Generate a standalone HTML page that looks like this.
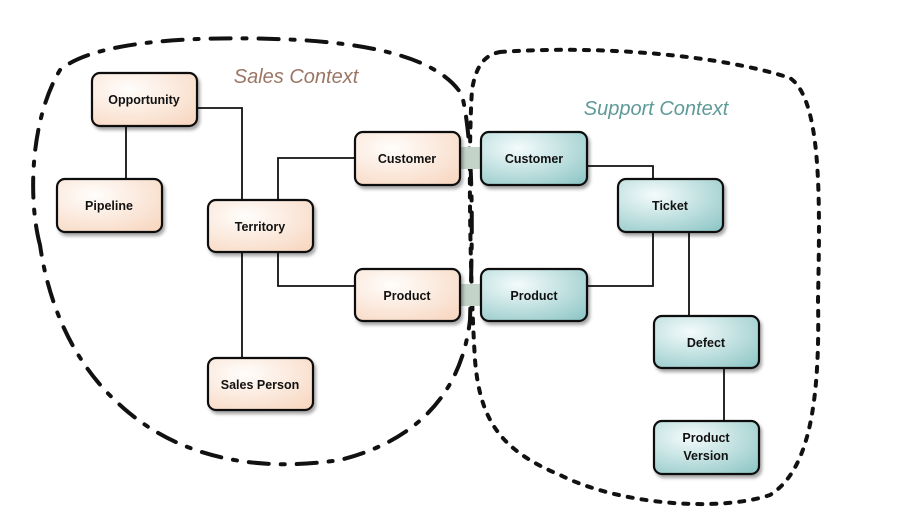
<!DOCTYPE html>
<html><head><style>
body{margin:0;background:#fff;width:913px;height:527px;overflow:hidden;font-family:"Liberation Sans",sans-serif}
</style></head><body>
<svg width="913" height="527" viewBox="0 0 913 527" xmlns="http://www.w3.org/2000/svg">
<defs>
<radialGradient id="s" cx="0.35" cy="0.3" r="0.9"><stop offset="0" stop-color="#fffdfb"/><stop offset="1" stop-color="#f7d6bf"/></radialGradient>
<radialGradient id="t" cx="0.35" cy="0.3" r="0.9"><stop offset="0" stop-color="#f4fbfb"/><stop offset="1" stop-color="#8fc6c6"/></radialGradient>
<filter id="sh" x="-10%" y="-10%" width="130%" height="140%"><feDropShadow dx="2" dy="3" stdDeviation="1.5" flood-color="#000" flood-opacity="0.35"/></filter>
</defs>
<!-- sales blob -->
<path d="M40,245 C28,200 30,120 60,70 C95,40 200,35 300,40 C380,45 440,60 462,95 C475,150 472,250 470,320 C462,390 420,440 340,460 C260,472 180,460 120,405 C70,360 48,300 40,245 Z" fill="none" stroke="#111" stroke-width="4" stroke-dasharray="20 12 4 12" stroke-linecap="round"/>
<!-- support blob -->
<path d="M500,52 C600,45 720,55 790,78 C822,100 820,200 818,300 C820,400 810,470 770,495 C720,512 620,505 560,475 C500,450 480,420 475,360 C470,280 468,150 472,90 C476,65 485,55 500,52 Z" fill="none" stroke="#111" stroke-width="4" stroke-dasharray="5 9" stroke-linecap="round"/>
<text x="296" y="83" font-family="Liberation Sans" font-style="italic" font-size="20" fill="#9b7665" text-anchor="middle">Sales Context</text>
<text x="656" y="115" font-family="Liberation Sans" font-style="italic" font-size="20" fill="#5f9a98" text-anchor="middle">Support Context</text>
<!-- bridges -->
<rect x="458" y="147" width="26" height="22" fill="#c3d3c8"/>
<rect x="458" y="284" width="26" height="22" fill="#c3d3c8"/>
<g stroke="#111" stroke-width="1.8" fill="none">
<path d="M197,108 H242 V200"/><path d="M126,126 V179"/>
<path d="M278,200 V158 H355"/><path d="M242,252 V358"/><path d="M278,252 V286 H355"/>
<path d="M587,166 H653 V179"/><path d="M653,232 V286 H587"/><path d="M689,232 V316"/><path d="M724,368 V421"/>
</g>
<g stroke="#111" stroke-width="2.2" filter="url(#sh)">
<rect x="92" y="73" width="105" height="53" rx="8" fill="url(#s)"/>
<rect x="57" y="179" width="105" height="53" rx="8" fill="url(#s)"/>
<rect x="208" y="200" width="105" height="52" rx="8" fill="url(#s)"/>
<rect x="355" y="132" width="105" height="53" rx="8" fill="url(#s)"/>
<rect x="355" y="269" width="105" height="52" rx="8" fill="url(#s)"/>
<rect x="208" y="358" width="105" height="52" rx="8" fill="url(#s)"/>
<rect x="481" y="132" width="106" height="53" rx="8" fill="url(#t)"/>
<rect x="618" y="179" width="105" height="53" rx="8" fill="url(#t)"/>
<rect x="481" y="269" width="106" height="52" rx="8" fill="url(#t)"/>
<rect x="654" y="316" width="105" height="52" rx="8" fill="url(#t)"/>
<rect x="654" y="421" width="105" height="53" rx="8" fill="url(#t)"/>
</g>
<g font-family="Liberation Sans" font-weight="bold" font-size="12.5" fill="#111" text-anchor="middle">
<text x="144" y="104">Opportunity</text>
<text x="109" y="210">Pipeline</text>
<text x="260" y="231">Territory</text>
<text x="407" y="163">Customer</text>
<text x="407" y="300">Product</text>
<text x="260" y="389">Sales Person</text>
<text x="534" y="163">Customer</text>
<text x="670" y="210">Ticket</text>
<text x="534" y="300">Product</text>
<text x="706" y="347">Defect</text>
<text x="706" y="442">Product</text>
<text x="706" y="460">Version</text>
</g>
</svg>
</body></html>
